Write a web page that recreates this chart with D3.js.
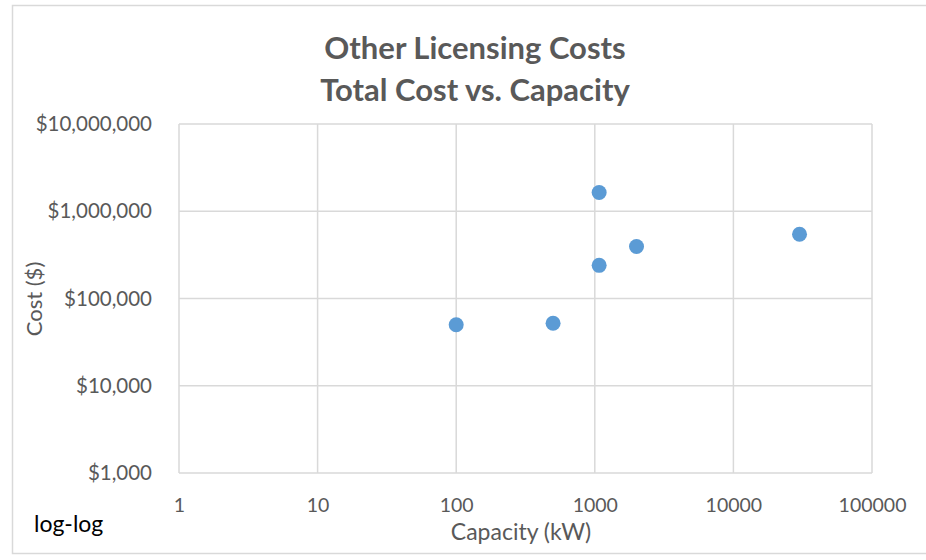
<!DOCTYPE html>
<html>
<head>
<meta charset="utf-8">
<script src="https://cdn.jsdelivr.net/npm/d3@7"></script>
<style>
  body { margin: 0; background: #fff; }
  text { font-family: Lato, "Open Sans", sans-serif; }
</style>
</head>
<body>
<svg id="chart" width="926" height="560"></svg>
<script>
// capacity (kW) and total cost ($)
const capacity = [100, 500, 1075, 1075, 2000, 30000];
const cost = [50000, 52000, 1640000, 240000, 395000, 545000];
const xTicks = [1, 10, 100, 1000, 10000, 100000];
const yTicks = [1000, 10000, 100000, 1000000, 10000000];
const titleLines = ["Other Licensing Costs", "Total Cost vs. Capacity"];

const svg = d3.select("#chart");
const margin = { top: 124, left: 179, right: 54, bottom: 87 };
const width = +svg.attr("width");
const height = +svg.attr("height");
const innerWidth = width - margin.left - margin.right;
const innerHeight = height - margin.top - margin.bottom;

// chart frame (right edge runs off the picture)
svg.append("path")
    .attr("d", `M${width},5.5 H12.5 V553.5 H${width}`)
    .attr("fill", "none")
    .attr("stroke", "#d9d9d9")
    .attr("stroke-width", 1.5);

const g = svg.append("g").attr("transform", `translate(${margin.left}, ${margin.top})`);

const xScale = d3.scaleLog().domain([1, 100000]).range([0, innerWidth]);
const yScale = d3.scaleLog().domain([1000, 10000000]).range([innerHeight, 0]);

// grid
g.selectAll(".vgrid")
    .data(xTicks)
    .enter()
    .append("line")
    .attr("x1", d => xScale(d))
    .attr("x2", d => xScale(d))
    .attr("y1", 0)
    .attr("y2", innerHeight)
    .attr("stroke", "#d9d9d9")
    .attr("stroke-width", 1.5);

g.selectAll(".hgrid")
    .data(yTicks)
    .enter()
    .append("line")
    .attr("x1", 0)
    .attr("x2", innerWidth)
    .attr("y1", d => yScale(d))
    .attr("y2", d => yScale(d))
    .attr("stroke", "#d9d9d9")
    .attr("stroke-width", 1.5);

// axes (labels only)
const xAxis = g.append("g")
    .attr("transform", `translate(0, ${innerHeight})`)
    .call(d3.axisBottom(xScale).tickValues(xTicks).tickFormat(d3.format("d")).tickSize(0).tickPadding(25));
const yAxis = g.append("g")
    .call(d3.axisLeft(yScale).tickValues(yTicks).tickFormat(d => "$" + d3.format(",")(d)).tickSize(0).tickPadding(27));

[xAxis, yAxis].forEach(ax => {
    ax.select(".domain").remove();
    ax.selectAll("text")
        .attr("fill", "#595959")
        .style("font-size", "19.5px")
        .style("font-family", "Lato, sans-serif");
});
yAxis.selectAll("text").style("font-size", "20.5px").attr("dy", "0.32em");

// points
g.selectAll("circle")
    .data(capacity.map((c, i) => ({ c, v: cost[i] })))
    .enter()
    .append("circle")
    .attr("cx", d => xScale(d.c))
    .attr("cy", d => yScale(d.v))
    .attr("r", 7.5)
    .attr("fill", "#5b9bd5");

// title
svg.selectAll(".title")
    .data(titleLines)
    .enter()
    .append("text")
    .attr("x", 475)
    .attr("y", (d, i) => 59 + i * 42)
    .attr("text-anchor", "middle")
    .attr("fill", "#595959")
    .style("font-size", "31px")
    .style("font-weight", "bold")
    .text(d => d);

// axis titles
svg.append("text")
    .attr("x", 521)
    .attr("y", 540)
    .attr("text-anchor", "middle")
    .attr("fill", "#595959")
    .style("font-size", "23px")
    .text("Capacity (kW)");

svg.append("text")
    .attr("transform", `translate(42, 299) rotate(-90)`)
    .attr("text-anchor", "middle")
    .attr("fill", "#595959")
    .style("font-size", "22px")
    .text("Cost ($)");

svg.append("text")
    .attr("x", 34)
    .attr("y", 532)
    .attr("fill", "#000")
    .style("font-size", "23px")
    .text("log-log");
</script>
</body>
</html>
